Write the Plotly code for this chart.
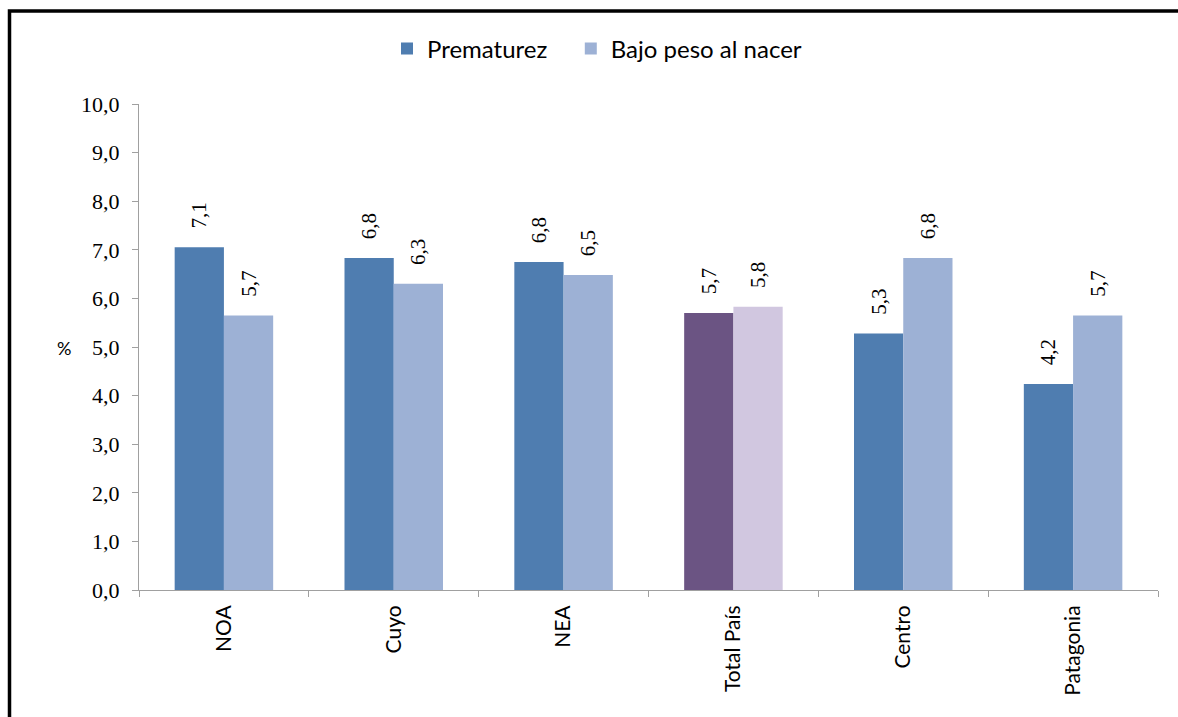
import plotly.graph_objects as go

categories = ["NOA", "Cuyo", "NEA", "Total País", "Centro", "Patagonia"]
prematurez = [7.05, 6.83, 6.75, 5.70, 5.28, 4.24]
bajo_peso = [5.65, 6.30, 6.48, 5.83, 6.83, 5.65]
prem_labels = ["7,1", "6,8", "6,8", "5,7", "5,3", "4,2"]
bajo_labels = ["5,7", "6,3", "6,5", "5,8", "6,8", "5,7"]
y_ticks = [0, 1, 2, 3, 4, 5, 6, 7, 8, 9, 10]

prem_colors = ["#6B5483" if c == "Total País" else "#4F7DB0" for c in categories]
bajo_colors = ["#D1C7E0" if c == "Total País" else "#9DB1D5" for c in categories]

pad = "\u00a0\u00a0\u00a0"
label_font = dict(family="Liberation Serif", size=21, color="#000000")

fig = go.Figure()
fig.add_trace(go.Bar(
    name="Prematurez\u00a0\u00a0\u00a0", x=categories, y=prematurez,
    marker=dict(color=prem_colors, line=dict(width=0)),
    text=[pad + s for s in prem_labels], textposition="outside", textangle=-90,
    textfont=label_font, cliponaxis=False,
))
fig.add_trace(go.Bar(
    name="Bajo peso al nacer", x=categories, y=bajo_peso,
    marker=dict(color=bajo_colors, line=dict(width=0)),
    text=[pad + s for s in bajo_labels], textposition="outside", textangle=-90,
    textfont=label_font, cliponaxis=False,
))

W, H = 1178, 717
L, T = 139, 104
R = W - 1158
B = H - 590
pw = W - L - R
ph = H - T - B

def px_x(px):
    return (px - L) / pw

def px_y(py):
    return (H - B - py) / ph

fig.update_layout(
    width=W, height=H,
    margin=dict(l=L, r=R, t=T, b=B),
    paper_bgcolor="white", plot_bgcolor="white",
    separators=",.",
    barmode="group", bargap=0.42, bargroupgap=0,
    showlegend=True,
    legend=dict(
        orientation="h", x=px_x(597), xanchor="center",
        y=px_y(49), yanchor="middle",
        font=dict(family="Lato", size=24, color="#000000"),
        traceorder="normal",
    ),
    xaxis=dict(
        showline=True, linecolor="#A0A0A0", linewidth=1,
        ticks="outside", tickson="boundaries", ticklen=6, tickcolor="#A0A0A0",
        tickangle=-90, tickfont=dict(family="Lato", size=21, color="#000000"),
        ticklabelstandoff=6,
        showgrid=False, zeroline=False,
    ),
    yaxis=dict(
        range=[0, 10], tickvals=y_ticks, tickformat=".1f",
        showline=True, linecolor="#A0A0A0", linewidth=1,
        ticks="outside", ticklen=6, tickcolor="#A0A0A0",
        tickfont=dict(family="Liberation Serif", size=22, color="#000000"),
        ticklabelstandoff=8,
        showgrid=False, zeroline=False,
    ),
    annotations=[dict(
        text="%", x=px_x(55), y=px_y(348), xref="paper", yref="paper",
        showarrow=False, font=dict(family="Lato", size=18, color="#000000"),
    )],
    shapes=[dict(
        type="rect", xref="paper", yref="paper",
        x0=px_x(9.5), x1=px_x(1200), y0=px_y(740), y1=px_y(11),
        line=dict(color="#000000", width=3.5), fillcolor="rgba(0,0,0,0)",
        layer="above",
    )],
)

fig.write_html("out.html", config={"displayModeBar": False},
               post_script="document.body.style.margin='0px';")
